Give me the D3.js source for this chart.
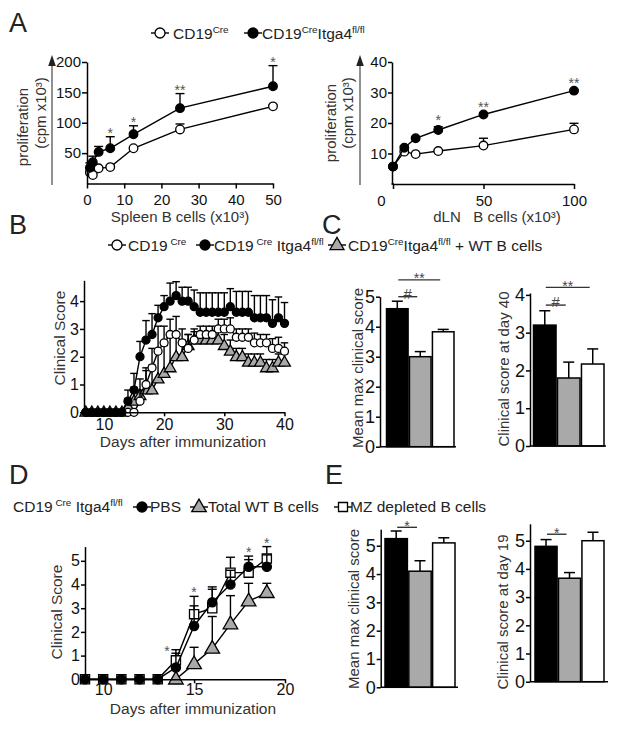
<!DOCTYPE html>
<html><head><meta charset="utf-8">
<script src="https://cdn.jsdelivr.net/npm/d3@7"></script>
<style>body{margin:0;background:#fff} svg{display:block}</style>
</head><body><svg id="c" width="618" height="729"></svg>
<script>
// ---------- DATA ----------
// Panel A (proliferation, cpm x10^3)
const spleenX = [0.78, 1.56, 3.125, 6.25, 12.5, 25, 50];
const spleenCre = [18, 14, 25, 27, 58, 89, 127];
const spleenCreErr = [2, 2, 2, 2, 2, 9, 2];
const spleenKO = [26, 35, 52, 58, 81, 124, 160];
const spleenKOErr = [8, 10, 9, 19, 14, 24, 34];
const spleenStars = [null, null, null, "*", "*", "**", "*"];
const dlnX = [0, 6.25, 12.5, 25, 50, 100];
const dlnCre = [5.7, 10.6, 9.8, 10.8, 12.6, 17.9];
const dlnCreErr = [0.3, 0.3, 0.3, 0.3, 2.4, 2.0];
const dlnKO = [5.7, 11.9, 15, 17.7, 22.8, 30.6];
const dlnKOErr = [0.3, 0.6, 0.3, 1.1, 0.3, 0.3];
const dlnStars = [null, null, null, "*", "**", "**"];
const spleenXTicks = [0, 10, 20, 30, 40, 50];
const spleenYTicks = [50, 100, 150, 200];
const dlnXTicks = [0, 50, 100];
const dlnYTicks = [10, 20, 30, 40];

// Panel B (clinical score, days 7..40)
const bDays = [7,8,9,10,11,12,13,14,15,16,17,18,19,20,21,22,23,24,25,26,27,28,29,30,31,32,33,34,35,36,37,38,39,40];
const bCre   = [0,0,0,0,0,0,0, 0,0,0.4,1.0,1.6,2.2,2.5,2.8,2.8,2.5,2.3,2.6,2.8,2.8,2.8,3.0,3.0,3.0,2.7,2.7,2.7,2.5,2.5,2.5,2.3,2.3,2.2];
const bCreErr= [0,0,0,0,0,0,0, 0,0,0.4,0.6,0.7,0.9,0.6,0.55,0.65,0.5,0.5,0.4,0.3,0.3,0.3,0.35,0.35,0.4,0.3,0.3,0.3,0.35,0.3,0.3,0.35,0.4,0.3];
const bKO    = [0,0,0,0,0,0,0, 0.4,0.8,2.0,2.6,2.8,3.4,3.8,4.0,4.2,4.0,4.0,3.8,3.6,3.6,3.6,3.6,3.6,3.8,3.6,3.6,3.6,3.4,3.4,3.4,3.2,3.4,3.2];
const bKOErr = [0,0,0,0,0,0,0, 0.4,0.6,0.55,0.7,0.75,0.45,0.4,0.65,0.5,0.5,0.5,0.6,0.7,0.7,0.7,0.7,0.7,0.65,0.75,0.75,0.75,0.8,0.8,0.8,0.85,0.75,0.75];
const bWT    = [0,0,0,0,0,0,0, 0.2,0.4,0.6,0.8,0.8,1.2,1.4,1.6,2.0,2.0,2.4,2.6,2.6,2.6,2.6,2.6,2.4,2.2,2.0,2.0,1.8,1.8,1.8,1.6,1.6,1.8,1.8];
const bWTErr = [0,0,0,0,0,0,0, 0.3,0.5,0.6,0.7,0.9,1.0,1.0,1.1,0.8,0.6,0.4,0.3,0.3,0.3,0.3,0.3,0.4,0.4,0.3,0.3,0.3,0.3,0.3,0.3,0.3,0.3,0.3];
const bXTicks = [10, 20, 30, 40];
const bYTicks = [0, 1, 2, 3, 4];

// Panel C (bars: KO, KO + WT B cells, CD19Cre)
const cMax = [4.6, 3.0, 3.83];
const cMaxErr = [0.25, 0.17, 0.08];
const cDay40 = [3.2, 1.8, 2.17];
const cDay40Err = [0.38, 0.42, 0.4];
const cMaxTicks = [0, 1, 2, 3, 4, 5];
const cDay40Ticks = [0, 1, 2, 3, 4];

// Panel D (clinical score)
const dDays = [9, 10, 11, 12, 13, 14, 15, 16, 17, 18, 19];
const dPBS = [0, 0, 0, 0, 0, 0.5, 2.25, 3.25, 4.0, 4.75, 4.75];
const dPBSErr = [0, 0, 0, 0, 0, 0.6, 0.85, 0.55, 0.6, 0.3, 0.5];
const dMZ = [0, 0, 0, 0, 0, 0.8, 2.75, 3.0, 4.5, 4.5, 5.1];
const dMZErr = [0, 0, 0, 0, 0, 0.45, 0.75, 0.9, 0.65, 0.7, 0.5];
const dWTDays = [14, 15, 16, 17, 18, 19];
const dWT = [0, 0.65, 1.3, 2.33, 3.3, 3.65];
const dWTErr = [0, 0.7, 1.35, 1.2, 0.75, 0.4];
const dStarDays = [14, 15, 18, 19];
const dXTicks = [10, 15, 20];
const dYTicks = [0, 1, 2, 3, 4, 5];

// Panel E (bars: PBS, Total WT B cells, MZ depleted B cells)
const eMax = [5.25, 4.1, 5.1];
const eMaxErr = [0.27, 0.37, 0.18];
const eDay19 = [4.8, 3.67, 5.0];
const eDay19Err = [0.24, 0.2, 0.3];
const eTicks = [0, 1, 2, 3, 4, 5];

const barFills = ["#000", "#a9a9a9", "#fff"];

// ---------- HELPERS ----------
const F = "'Liberation Sans', Arial, Helvetica, sans-serif";
const svg = d3.select("#c");
svg.append("rect").attr("width",618).attr("height",729).attr("fill","#fff");

function styleAxis(g, fs) {
  g.attr("font-family", F).attr("font-size", fs);
  g.select(".domain").attr("stroke", "#000").attr("stroke-width", 1.5);
  g.selectAll(".tick line").attr("stroke", "#000").attr("stroke-width", 1.5);
  g.selectAll(".tick text").attr("fill", "#111");
  return g;
}
function yAxis(scale, x, ticks, fs, ts, pad) {
  return styleAxis(svg.append("g").attr("transform", `translate(${x},0)`)
    .call(d3.axisLeft(scale).tickValues(ticks).tickSize(ts).tickPadding(pad).tickSizeOuter(0).tickFormat(d3.format("d"))), fs);
}
function xAxis(scale, y, ticks, fs, ts, pad) {
  return styleAxis(svg.append("g").attr("transform", `translate(0,${y})`)
    .call(d3.axisBottom(scale).tickValues(ticks).tickSize(ts).tickPadding(pad).tickSizeOuter(0).tickFormat(d3.format("d"))), fs);
}
function label(x, y, s, fs, opts = {}) {
  const t = svg.append("text").attr("font-family", F).attr("font-size", fs)
    .attr("fill", opts.fill || "#333").attr("text-anchor", opts.anchor || "middle")
    .attr("style", "white-space:pre").text(s);
  if (opts.rot) t.attr("transform", `translate(${x},${y}) rotate(-90)`).attr("dy", "0.35em");
  else t.attr("x", x).attr("y", y);
  return t;
}
function rich(x, y, parts, fs) {
  const t = svg.append("text").attr("x", x).attr("y", y).attr("font-family", F)
    .attr("font-size", fs).attr("fill", "#222").attr("style", "white-space:pre");
  let sup = false;
  parts.forEach(p => {
    const ts = t.append("tspan").text(p[0]);
    const isSup = !!p[1];
    if (isSup) ts.attr("font-size", fs * 0.64);
    if (isSup && !sup) ts.attr("dy", -6);
    if (!isSup && sup) ts.attr("dy", 6);
    sup = isSup;
  });
}
function marker(g, type, cx, cy, size, fill) {
  if (type === "circle") {
    g.append("circle").attr("cx", cx).attr("cy", cy).attr("r", size)
      .attr("fill", fill).attr("stroke", "#000").attr("stroke-width", 1.3);
  } else {
    const sym = type === "triangle" ? d3.symbolTriangle : d3.symbolSquare;
    const area = type === "triangle" ? size * size * 3.4 : size * size * 4;
    g.append("path").attr("d", d3.symbol().type(sym).size(area)())
      .attr("transform", `translate(${cx},${cy + (type === "triangle" ? 0.5 : 0)})`)
      .attr("fill", fill).attr("stroke", "#000").attr("stroke-width", 1.3);
  }
}
function series(xs, ys, es, xS, yS, type, size, fill, capW) {
  const g = svg.append("g");
  xs.forEach((d, i) => {
    if (es[i] > 0) {
      const x = xS(d), y1 = yS(ys[i]), y2 = yS(ys[i] + es[i]);
      g.append("line").attr("x1", x).attr("x2", x).attr("y1", y1).attr("y2", y2)
        .attr("stroke", "#000").attr("stroke-width", 1.4);
      g.append("line").attr("x1", x - capW / 2).attr("x2", x + capW / 2).attr("y1", y2).attr("y2", y2)
        .attr("stroke", "#000").attr("stroke-width", 1.4);
    }
  });
  g.append("path").datum(xs.map((d, i) => [d, ys[i]]))
    .attr("d", d3.line().x(d => xS(d[0])).y(d => yS(d[1])))
    .attr("fill", "none").attr("stroke", "#000").attr("stroke-width", 1.4);
  xs.forEach((d, i) => marker(g, type, xS(d), yS(ys[i]), size, fill));
}
function legendSym(cx, cy, type, size, fill) {
  const g = svg.append("g");
  g.append("line").attr("x1", cx - 9).attr("x2", cx + 9).attr("y1", cy).attr("y2", cy)
    .attr("stroke", "#000").attr("stroke-width", 1.4);
  marker(g, type, cx, cy, size, fill);
}
function arrowAxis(x, yTop, yBot) {
  svg.append("line").attr("x1", x).attr("x2", x).attr("y1", yBot).attr("y2", yTop + 6)
    .attr("stroke", "#555").attr("stroke-width", 1.3);
  svg.append("path").attr("d", `M${x},${yTop - 3} L${x - 3.8},${yTop + 8} L${x + 3.8},${yTop + 8} Z`).attr("fill", "#222");
}
function barChart(vals, errs, yS, x0, x1, axisX, axisEnd, ticks, fs, sigs) {
  const band = d3.scaleBand().domain(d3.range(vals.length)).range([x0, x1]).paddingInner(0.06);
  const g = svg.append("g");
  vals.forEach((v, i) => {
    const cx = band(i) + band.bandwidth() / 2;
    g.append("line").attr("x1", cx).attr("x2", cx).attr("y1", yS(v)).attr("y2", yS(v + errs[i]))
      .attr("stroke", "#000").attr("stroke-width", 1.5);
    g.append("line").attr("x1", cx - 5.5).attr("x2", cx + 5.5).attr("y1", yS(v + errs[i])).attr("y2", yS(v + errs[i]))
      .attr("stroke", "#000").attr("stroke-width", 1.5);
    g.append("rect").attr("x", band(i)).attr("width", band.bandwidth())
      .attr("y", yS(v)).attr("height", yS(0) - yS(v))
      .attr("fill", barFills[i]).attr("stroke", "#000").attr("stroke-width", 1.5);
  });
  yAxis(yS, axisX, ticks, fs, 4, 1);
  svg.append("line").attr("x1", axisX).attr("x2", axisEnd).attr("y1", yS(0)).attr("y2", yS(0))
    .attr("stroke", "#000").attr("stroke-width", 1.5);
  sigs.forEach(s => {
    const a = band(s[0]) + band.bandwidth() / 2 + 1, b = band(s[1]) + band.bandwidth() / 2 - 3;
    const yy = yS(s[2]);
    svg.append("line").attr("x1", a).attr("x2", b).attr("y1", yy).attr("y2", yy)
      .attr("stroke", "#333").attr("stroke-width", 1.4);
    label((a + b) / 2, yy + (s[3] === "#" ? 2 : 3.5), s[3], s[3] === "#" ? 15 : 14, { fill: "#444" });
  });
}

// ---------- PANEL LETTERS ----------
[["A", 9, 32], ["B", 9, 234], ["C", 322, 234], ["D", 9, 484], ["E", 325, 484]].forEach(d =>
  label(d[1], d[2], d[0], 27, { anchor: "start", fill: "#222" }));

// ---------- PANEL A ----------
rich(173, 39, [["CD19"], ["Cre", 1]], 15.5);
legendSym(160, 33, "circle", 5, "#fff");
rich(262, 39, [["CD19"], ["Cre", 1], ["Itga4"], ["fl/fl", 1]], 15.5);
legendSym(253, 33, "circle", 5, "#000");

const aLx = d3.scaleLinear().domain([0, 50]).range([87, 273]);
const aLy = d3.scaleLinear().domain([0, 200]).range([183.5, 62]);
series(spleenX, spleenCre, spleenCreErr, aLx, aLy, "circle", 4.3, "#fff", 9);
series(spleenX, spleenKO, spleenKOErr, aLx, aLy, "circle", 4.3, "#000", 9);
xAxis(aLx, 183.5, spleenXTicks, 15, 5, 6);
yAxis(aLy, 87, spleenYTicks, 15, 5, 1);
spleenStars.forEach((s, i) => { if (s) label(aLx(spleenX[i]), aLy(spleenKO[i] + spleenKOErr[i]) + 1.5, s, 14, { fill: "#555" }); });
arrowAxis(52, 58, 185);
label(23, 127, "proliferation", 15, { rot: true });
label(41, 113, "(cpm x10³)", 15, { rot: true });
label(180, 222, "Spleen B cells (x10³)", 15);

const aRx = d3.scaleLinear().domain([0, 100]).range([393, 574]);
const aRy = d3.scaleLinear().domain([0, 40]).range([184, 62]);
series(dlnX, dlnCre, dlnCreErr, aRx, aRy, "circle", 4.3, "#fff", 9);
series(dlnX, dlnKO, dlnKOErr, aRx, aRy, "circle", 4.3, "#000", 9);
const gx = xAxis(aRx, 184, dlnXTicks, 15, 5, 6);
gx.selectAll(".tick text").filter(d => d === 0).attr("dx", -12);
svg.append("line").attr("x1", 391.5).attr("x2", 394).attr("y1", 184).attr("y2", 184).attr("stroke", "#000").attr("stroke-width", 1.5);
yAxis(aRy, 392, dlnYTicks, 15, 4, 1);
dlnStars.forEach((s, i) => { if (s) label(aRx(dlnX[i]), aRy(dlnKO[i] + dlnKOErr[i]) - 2, s, 14, { fill: "#555" }); });
arrowAxis(360, 58, 185);
label(331, 123, "proliferation", 15, { rot: true });
label(348, 113, "(cpm x10³)", 15, { rot: true });
label(497, 222, "dLN   B cells (x10³)", 15);

// ---------- PANEL B ----------
legendSym(117, 245, "circle", 5, "#fff");
rich(128, 251, [["CD19"], [" Cre", 1]], 15.5);
legendSym(205, 245, "circle", 5, "#000");
rich(214, 251, [["CD19"], [" Cre", 1], [" Itga4"], ["fl/fl", 1]], 15.5);
legendSym(337, 245, "triangle", 5, "#a9a9a9");
rich(348, 251, [["CD19"], ["Cre", 1], ["Itga4"], ["fl/fl", 1], [" + WT B cells"]], 15.5);

const bx = d3.scaleLinear().domain([6.7, 40]).range([84, 284.5]);
const by = d3.scaleLinear().domain([0, 4.75]).range([412.3, 280.3]);
series(bDays, bWT, bWTErr, bx, by, "triangle", 4.2, "#a9a9a9", 7.5);
series(bDays, bCre, bCreErr, bx, by, "circle", 4, "#fff", 7.5);
series(bDays, bKO, bKOErr, bx, by, "circle", 4, "#000", 7.5);
xAxis(bx, 412.3, bXTicks, 16, 4, 2.5);
yAxis(by, 84, bYTicks, 16, 4, 1);
label(60, 338, "Clinical Score", 15.5, { rot: true });
label(183, 447, "Days after immunization", 15.5);

// ---------- PANEL C ----------
const cy1 = d3.scaleLinear().domain([0, 5]).range([446.7, 296.7]);
barChart(cMax, cMaxErr, cy1, 386.5, 454, 380, 456, cMaxTicks, 18, [[0, 1, 5.0, "#"], [0, 2, 5.56, "**"]]);
label(358, 368, "Mean max clinical score", 15, { rot: true });
const cy2 = d3.scaleLinear().domain([0, 4.05]).range([446, 293]);
barChart(cDay40, cDay40Err, cy2, 533.5, 604, 530, 606, cDay40Ticks, 18, [[0, 1, 3.73, "#"], [0, 2, 4.2, "**"]]);
label(504, 369, "Clinical score at day 40", 15, { rot: true });

// ---------- PANEL D ----------
rich(13, 512, [["CD19"], [" Cre", 1], [" Itga4"], ["fl/fl", 1]], 15.5);
legendSym(142, 507, "circle", 5, "#000");
label(150, 512, "PBS", 15.5, { anchor: "start", fill: "#222" });
legendSym(199, 507, "triangle", 5.2, "#a9a9a9");
label(208, 512, "Total WT B cells", 15.5, { anchor: "start", fill: "#222" });
legendSym(343, 507, "square", 4.5, "#fff");
label(350, 512, "MZ depleted B cells", 15.5, { anchor: "start", fill: "#222" });

const dx = d3.scaleLinear().domain([9, 20]).range([85, 285]);
const dy = d3.scaleLinear().domain([0, 5.6]).range([679.3, 546.6]);
series(dWTDays, dWT, dWTErr, dx, dy, "triangle", 5.2, "#a9a9a9", 9);
series(dDays, dMZ, dMZErr, dx, dy, "square", 4.6, "#fff", 9);
series(dDays, dPBS, dPBSErr, dx, dy, "circle", 4.6, "#000", 9);
xAxis(dx, 679.3, dXTicks, 16, 4, 0.5);
yAxis(dy, 85, dYTicks, 16, 4, 1);
dStarDays.forEach((day, k) => {
  const i = dDays.indexOf(day), j = dWTDays.indexOf(day);
  const top = Math.max(dPBS[i] + dPBSErr[i], dWT[j] + dWTErr[j], dMZ[i] + dMZErr[i]);
  label(dx(day) - (k === 0 ? 9 : 0), dy(top) + (k === 0 ? 6 : 1), "*", 14, { fill: "#555" });
});
label(57, 612, "Clinical Score", 15.5, { rot: true });
label(193, 714, "Days after immunization", 15.5);

// ---------- PANEL E ----------
const ey1 = d3.scaleLinear().domain([0, 5.58]).range([687.3, 529.3]);
barChart(eMax, eMaxErr, ey1, 385, 455, 380.7, 458, eTicks, 18, [[0, 1, 5.65, "*"]]);
label(354, 609, "Mean max clinical score", 15, { rot: true });
const ey2 = d3.scaleLinear().domain([0, 5.6]).range([681.7, 523.8]);
barChart(eDay19, eDay19Err, ey2, 535, 604, 530, 608, eTicks, 18, [[0, 1, 5.23, "*"]]);
label(503, 612, "Clinical score at day 19", 15, { rot: true });
</script></body></html>
